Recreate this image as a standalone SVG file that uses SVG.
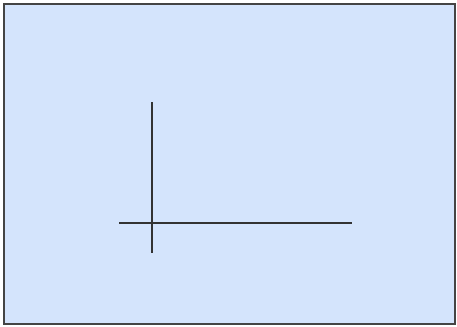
<svg xmlns="http://www.w3.org/2000/svg" width="457" height="327" viewBox="0 0 457 327">
<style>
.frame{fill:#d4e4fc;stroke:#444;stroke-width:2}
.axis{stroke:#333;stroke-width:2;fill:none}
</style>
<g id="frame"><rect class="frame" x="4" y="4" width="451" height="320"/></g>
<g id="connectors">
<line class="axis" x1="152" y1="102" x2="152" y2="253"/>
<line class="axis" x1="119" y1="223" x2="352" y2="223"/>
</g>
</svg>
